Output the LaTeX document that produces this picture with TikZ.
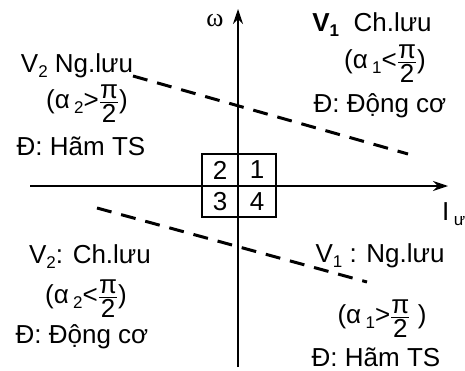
\documentclass[tikz,border=0pt]{standalone}
\usepackage{fontspec}
\setmainfont{Liberation Sans}
\newfontfamily\symfont{Liberation Serif}
\usepackage{amsmath}
\usetikzlibrary{arrows.meta}
\newcommand{\pihalf}{$\genfrac{}{}{1.4pt}{1}{\hbox{π}}{\hbox{2}}$}
\newcommand{\lowidx}[1]{\raisebox{-5pt}{\fontsize{17}{20}\selectfont #1}}

\begin{document}
\begin{tikzpicture}[
    x=1pt,y=1pt,
    lbl/.style={anchor=base,inner sep=0pt,font=\fontsize{26}{30}\selectfont},
    cell/.style={inner sep=0pt,font=\fontsize{26}{30}\selectfont},
    axis/.style={-{Stealth[length=15pt,width=10pt]},line width=1.6pt},
    load/.style={line width=3pt,dash pattern=on 15pt off 10pt}
]
  \useasboundingbox (0,0) rectangle (465,370);

  % Axes
  \coordinate (xl) at (30,184);
  \coordinate (xr) at (448,184);
  \coordinate (yb) at (238,3);
  \coordinate (yt) at (238,361);
  \draw[axis] (xl) -- (xr);
  \draw[axis] (yb) -- (yt);
  \node[font=\symfont\fontsize{26}{30}\selectfont,inner sep=0pt] (omega) at (215,349) {ω};
  \node[lbl,anchor=base west] (iu) at (442,150) {I\,\lowidx{ư}};

  % Quadrant box
  \draw[line width=1.6pt] (202,153) rectangle (276,216);
  \node[cell] (q2) at (220,200) {2};
  \node[cell] (q1) at (257,200) {1};
  \node[cell] (q3) at (220,168.5) {3};
  \node[cell] (q4) at (257,168.5) {4};

  % Characteristics
  \coordinate (a1) at (133,294);
  \coordinate (a2) at (408,216);
  \coordinate (b1) at (97,162);
  \coordinate (b2) at (367,88);
  \draw[load] (a1) -- (a2);
  \draw[load] (b1) -- (b2);

  % Quadrant labels
  \node[lbl] (ul1) at (77,297) {V\lowidx{2} Ng.lưu};
  \node[lbl] (ul2) at (87,261.5) {(α\,\lowidx{2}>\pihalf)};
  \node[lbl] (ul3) at (81,215) {Đ: Hãm TS};

  \node[lbl] (ur1) at (372,338) {\textbf{V\lowidx{1}}\ \ Ch.lưu};
  \node[lbl] (ur2) at (385,301.5) {(α\,\lowidx{1}<\pihalf)};
  \node[lbl] (ur3) at (380,257) {Đ: Động cơ};

  \node[lbl] (ll1) at (90,107) {V\lowidx{2}: Ch.lưu};
  \node[lbl] (ll2) at (86,66.5) {(α\,\lowidx{2}<\pihalf)};
  \node[lbl] (ll3) at (82,27) {Đ: Động cơ};

  \node[lbl] (lr1) at (380,108) {V\lowidx{1} : Ng.lưu};
  \node[lbl] (lr2) at (382,46.5) {(α\,\lowidx{1}>\pihalf\ )};
  \node[lbl] (lr3) at (376,4) {Đ: Hãm TS};
\end{tikzpicture}
\end{document}
